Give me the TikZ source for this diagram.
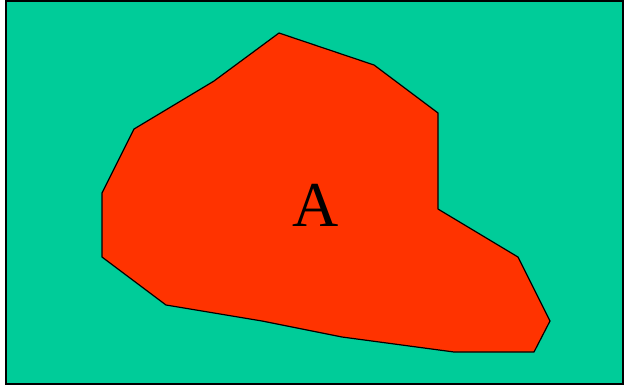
\documentclass[tikz,border=0pt]{standalone}
\usepackage{fontspec}
\setmainfont{Liberation Serif}
\usetikzlibrary{positioning}
\definecolor{fieldGreen}{HTML}{00CC99}
\definecolor{regionRed}{HTML}{FF3300}
\tikzset{
  field/.style={draw=black, line width=1.6pt, fill=fieldGreen},
  region/.style={draw=black, line width=1.2pt, fill=regionRed, line join=round},
  regionlabel/.style={font=\fontsize{64}{64}\selectfont, inner sep=0pt},
}
\begin{document}
\begin{tikzpicture}[x=1pt, y=-1pt]
    \useasboundingbox (0,0) rectangle (624,386);
    % background field
    \draw[field] (6,1) rectangle (623,384);
    % region A
    \draw[region] (279,33) -- (374,65) -- (438,113) -- (438,209)
      -- (518,257) -- (550,321) -- (534,352) -- (454,352)
      -- (342,337) -- (262,321) -- (166,305) -- (102,257)
      -- (102,193) -- (134,129) -- (214,81) -- cycle;
    \node[regionlabel, anchor=base] (lblA) at (316,226) {A};
\end{tikzpicture}
\end{document}
